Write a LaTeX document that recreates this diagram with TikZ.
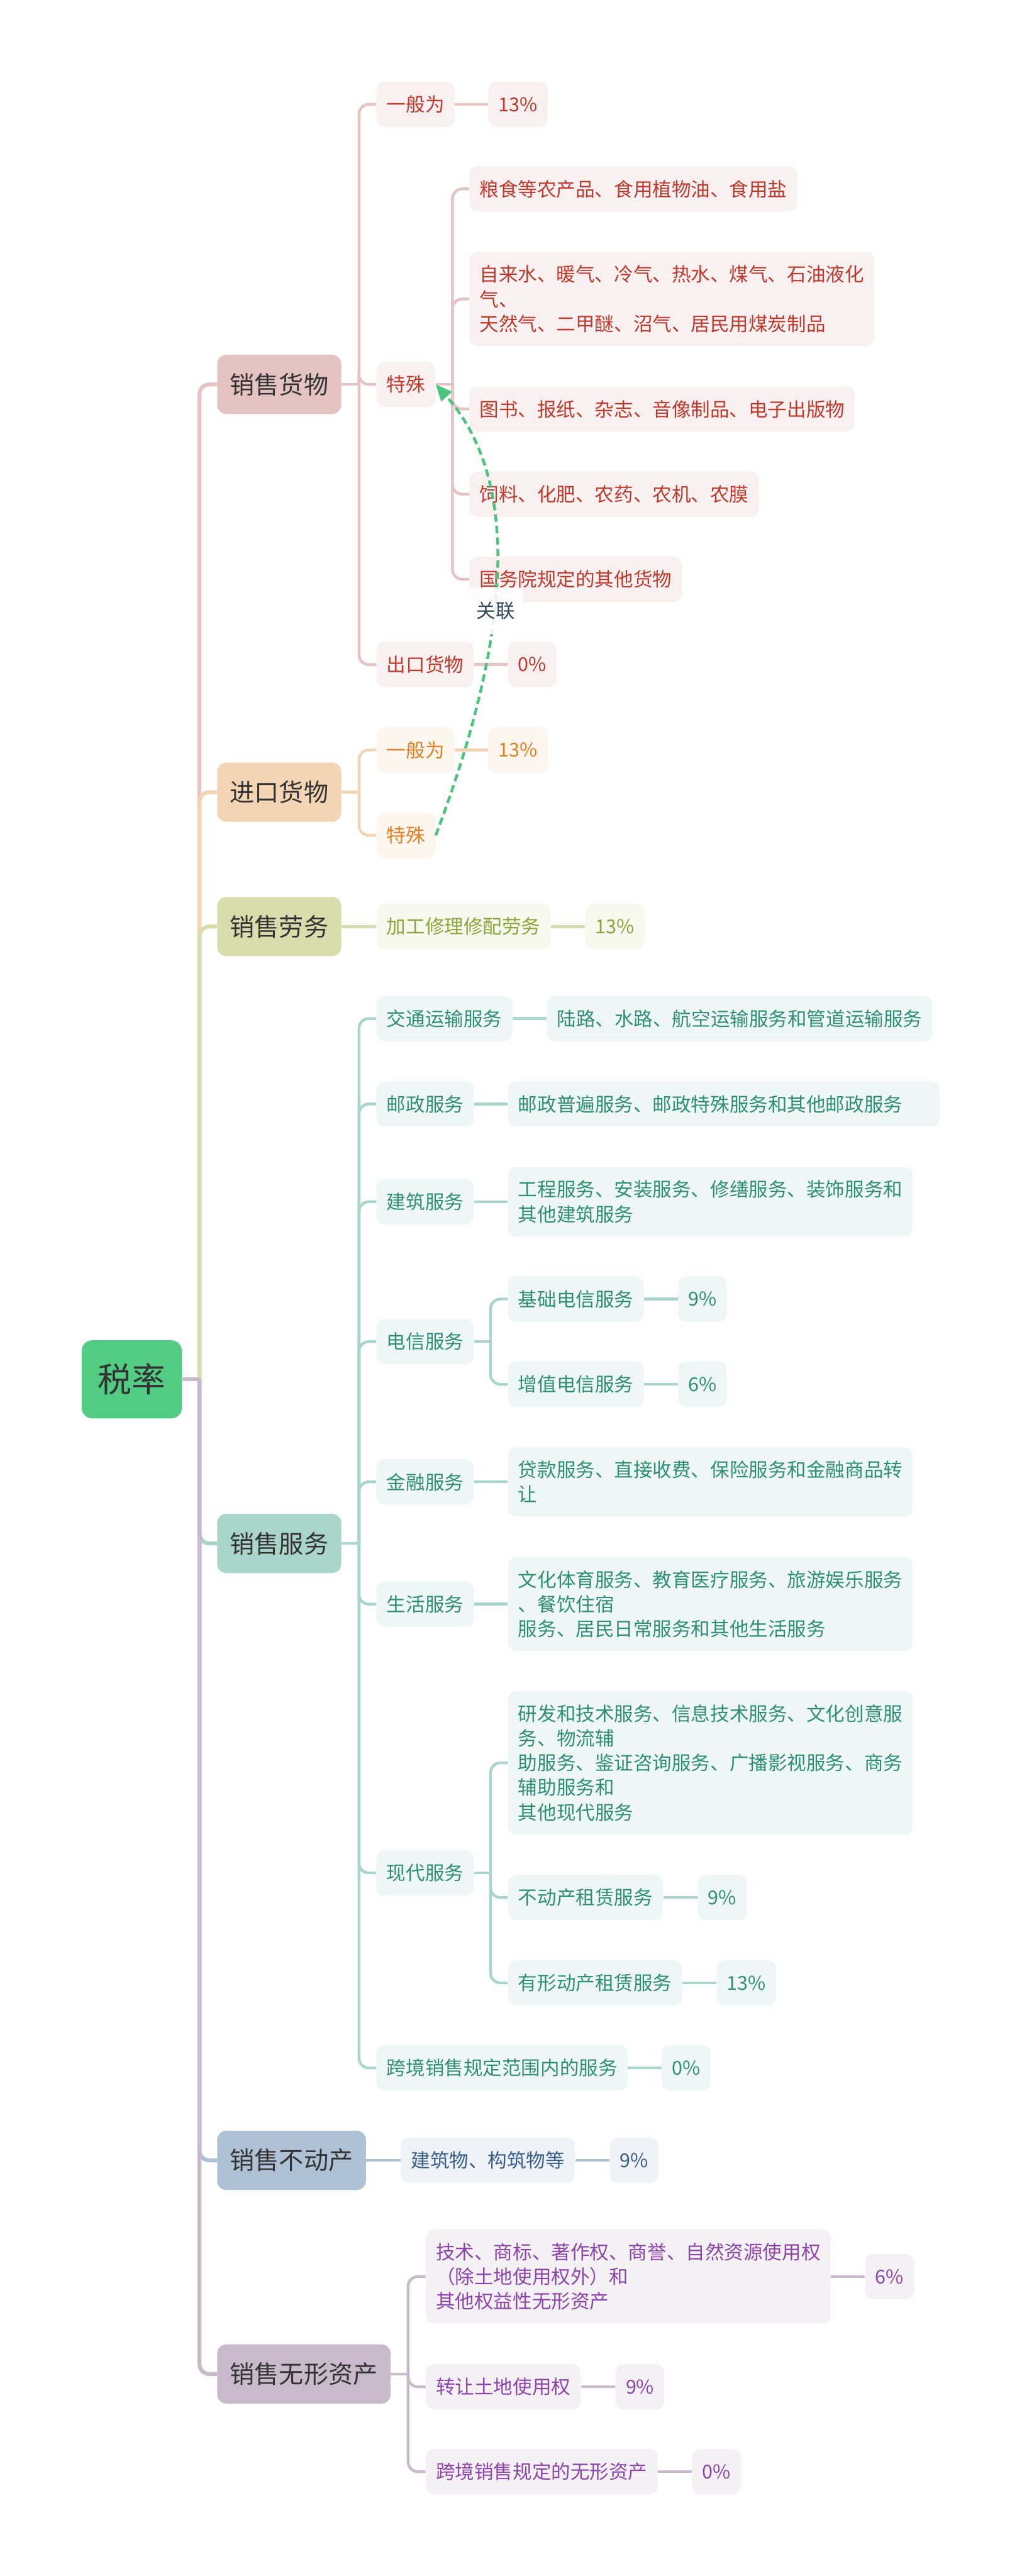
\documentclass[tikz,border=0pt]{standalone}
\usepackage{fontspec}
\setmainfont{Noto Sans CJK SC}
\usetikzlibrary{arrows.meta}

\definecolor{rootFill}{HTML}{52CC83}
\definecolor{darkText}{HTML}{333333}
\definecolor{pkEdge}{HTML}{E6C3C3}
\definecolor{pkLeaf}{HTML}{F9F1F1}
\definecolor{pkText}{HTML}{C0392B}
\definecolor{pcEdge}{HTML}{F3D5B5}
\definecolor{pcLeaf}{HTML}{FDF6EF}
\definecolor{pcText}{HTML}{E67E22}
\definecolor{olEdge}{HTML}{D7DDAB}
\definecolor{olLeaf}{HTML}{F7F8EE}
\definecolor{olText}{HTML}{8FA43A}
\definecolor{tlEdge}{HTML}{A9D5CA}
\definecolor{tlLeaf}{HTML}{EEF7F5}
\definecolor{tlText}{HTML}{2F8F75}
\definecolor{blEdge}{HTML}{AFC1D4}
\definecolor{blLeaf}{HTML}{EFF3F7}
\definecolor{blText}{HTML}{3A5E8C}
\definecolor{mvEdge}{HTML}{C9BACB}
\definecolor{mvLeaf}{HTML}{F4F1F5}
\definecolor{mvText}{HTML}{8E44AD}
\definecolor{relGreen}{HTML}{4CC47C}
\definecolor{relText}{HTML}{34495E}

\tikzset{
  rootbox/.style={rounded corners=6.5pt, fill=rootFill, text=darkText,
    font=\fontsize{20.6}{24}\selectfont, minimum height=47.6pt, inner xsep=9.9pt},
  topbox/.style={anchor=west, rounded corners=5.5pt, fill=#1, text=darkText,
    font=\fontsize{15}{18}\selectfont, minimum height=36pt, inner xsep=7.75pt},
  leaf/.style={anchor=west, rounded corners=5pt, align=left,
    font=\fontsize{11.7}{15}\selectfont, minimum height=27.6pt,
    inner xsep=6.2pt, inner ysep=8.2pt},
  goods/.style={leaf, fill=pkLeaf, text=pkText},
  import/.style={leaf, fill=pcLeaf, text=pcText},
  labour/.style={leaf, fill=olLeaf, text=olText},
  service/.style={leaf, fill=tlLeaf, text=tlText},
  estate/.style={leaf, fill=blLeaf, text=blText},
  intang/.style={leaf, fill=mvLeaf, text=mvText},
  mainlink/.style={draw=#1, line width=2.4pt, rounded corners=6pt},
  sublink/.style={draw=#1, line width=1.7pt, rounded corners=6pt},
  relline/.style={draw=relGreen, line width=1.7pt, dash pattern=on 4.5pt off 2.5pt,
    -{Triangle[length=10pt,width=8.5pt]}},
  rellabel/.style={fill=white, fill opacity=0.85, text opacity=1, text=relText,
    rounded corners=4pt, font=\fontsize{11.7}{15}\selectfont,
    minimum height=28.4pt, inner xsep=5.3pt}
}

\begin{document}
\begin{tikzpicture}[x=1pt,y=-1pt]
\useasboundingbox (0,0) rectangle (622,1568);

\node[rootbox] (root) at (80.2,839.6) {税率};

\node[topbox=pkEdge] (gd) at (132,234) {销售货物};
\node[topbox=pcEdge] (im) at (132,482.2) {进口货物};
\node[topbox=olEdge] (lb) at (132,564) {销售劳务};
\node[topbox=tlEdge] (sv) at (132,939.5) {销售服务};
\node[topbox=blEdge] (es) at (132,1315) {销售不动产};
\node[topbox=mvEdge] (ia) at (132,1445) {销售无形资产};

\node[goods] (gdA) at (229,63.5) {一般为};
\node[goods] (gdAv) at (297,63.5) {13\%};
\node[goods] (gdB) at (229,234) {特殊};
\node[goods] (gdC) at (229,404.5) {出口货物};
\node[goods] (gdCv) at (309,404.5) {0\%};
\node[goods] (gdB1) at (285.5,115) {粮食等农产品、食用植物油、食用盐};
\node[goods] (gdB2) at (285.5,182) {自来水、暖气、冷气、热水、煤气、石油液化\\气、\\天然气、二甲醚、沼气、居民用煤炭制品};
\node[goods] (gdB3) at (285.5,249) {图书、报纸、杂志、音像制品、电子出版物};
\node[goods] (gdB4) at (285.5,300.8) {饲料、化肥、农药、农机、农膜};
\node[goods] (gdB5) at (285.5,352.6) {国务院规定的其他货物};

\node[import] (imA) at (229,456.5) {一般为};
\node[import] (imAv) at (297,456.5) {13\%};
\node[import] (imB) at (229,508.5) {特殊};

\node[labour] (lbA) at (229,564) {加工修理修配劳务};
\node[labour] (lbAv) at (356,564) {13\%};

\node[service] (svA) at (229,620) {交通运输服务};
\node[service] (svAv) at (332.6,620) {陆路、水路、航空运输服务和管道运输服务};
\node[service] (svB) at (229,672) {邮政服务};
\node[service, text width=250.3pt] (svBv) at (309,672) {邮政普遍服务、邮政特殊服务和其他邮政服务};
\node[service] (svC) at (229,731.5) {建筑服务};
\node[service] (svCv) at (309,731.5) {工程服务、安装服务、修缮服务、装饰服务和\\其他建筑服务};
\node[service] (svD) at (229,816.6) {电信服务};
\node[service] (svD1) at (309,790.7) {基础电信服务};
\node[service] (svD1v) at (412.5,790.7) {9\%};
\node[service] (svD2) at (309,842.6) {增值电信服务};
\node[service] (svD2v) at (412.5,842.6) {6\%};
\node[service] (svE) at (229,902) {金融服务};
\node[service] (svEv) at (309,902) {贷款服务、直接收费、保险服务和金融商品转\\让};
\node[service] (svF) at (229,976.4) {生活服务};
\node[service] (svFv) at (309,976.4) {文化体育服务、教育医疗服务、旅游娱乐服务\\、餐饮住宿\\服务、居民日常服务和其他生活服务};
\node[service] (svG) at (229,1140) {现代服务};
\node[service] (svG1) at (309,1073) {研发和技术服务、信息技术服务、文化创意服\\务、物流辅\\助服务、鉴证咨询服务、广播影视服务、商务\\辅助服务和\\其他现代服务};
\node[service] (svG2) at (309,1155) {不动产租赁服务};
\node[service] (svG2v) at (424.5,1155) {9\%};
\node[service] (svG3) at (309,1207) {有形动产租赁服务};
\node[service] (svG3v) at (436,1207) {13\%};
\node[service] (svH) at (229,1258.7) {跨境销售规定范围内的服务};
\node[service] (svHv) at (402.6,1258.7) {0\%};

\node[estate] (esA) at (243.8,1315) {建筑物、构筑物等};
\node[estate] (esAv) at (371,1315) {9\%};

\node[intang] (iaA) at (259,1385.7) {技术、商标、著作权、商誉、自然资源使用权\\（除土地使用权外）和\\其他权益性无形资产};
\node[intang] (iaAv) at (526.4,1385.7) {6\%};
\node[intang] (iaB) at (259,1452.8) {转让土地使用权};
\node[intang] (iaBv) at (374.5,1452.8) {9\%};
\node[intang] (iaC) at (259,1504.5) {跨境销售规定的无形资产};
\node[intang] (iaCv) at (421,1504.5) {0\%};

\coordinate (rt) at ([xshift=10.5pt]root.east);
\draw[mainlink=pkEdge] (rt) |- (gd.west);
\draw[mainlink=pcEdge] (rt) |- (im.west);
\draw[mainlink=olEdge] (rt) |- (lb.west);
\draw[mainlink=tlEdge] (rt) |- (sv.west);
\draw[mainlink=blEdge] (rt) |- (es.west);
\draw[mainlink=mvEdge] (rt) |- (ia.west);
\draw[mainlink=mvEdge] (root.east) -- (rt);

\coordinate (gdT) at ([xshift=10.6pt]gd.east);
\draw[sublink=pkEdge] (gd.east) -- (gdT);
\foreach \c in {gdA,gdB,gdC} \draw[sublink=pkEdge] (gdT) |- (\c.west);
\draw[sublink=pkEdge] (gdA.east) -- (gdAv.west);
\draw[sublink=pkEdge] (gdC.east) -- (gdCv.west);
\coordinate (gdBT) at ([xshift=10.2pt]gdB.east);
\draw[sublink=pkEdge] (gdB.east) -- (gdBT);
\foreach \c in {gdB1,gdB2,gdB3,gdB4,gdB5} \draw[sublink=pkEdge] (gdBT) |- (\c.west);

\coordinate (imT) at ([xshift=10.6pt]im.east);
\draw[sublink=pcEdge] (im.east) -- (imT);
\foreach \c in {imA,imB} \draw[sublink=pcEdge] (imT) |- (\c.west);
\draw[sublink=pcEdge] (imA.east) -- (imAv.west);

\draw[sublink=olEdge] (lb.east) -- (lbA.west);
\draw[sublink=olEdge] (lbA.east) -- (lbAv.west);

\coordinate (svT) at ([xshift=10.6pt]sv.east);
\draw[sublink=tlEdge] (sv.east) -- (svT);
\foreach \c in {svA,svB,svC,svD,svE,svF,svG,svH} \draw[sublink=tlEdge] (svT) |- (\c.west);
\foreach \a/\b in {svA/svAv,svB/svBv,svC/svCv,svE/svEv,svF/svFv,svH/svHv,
  svD1/svD1v,svD2/svD2v,svG2/svG2v,svG3/svG3v}
  \draw[sublink=tlEdge] (\a.east) -- (\b.west);
\coordinate (svDT) at ([xshift=10pt]svD.east);
\draw[sublink=tlEdge] (svD.east) -- (svDT);
\foreach \c in {svD1,svD2} \draw[sublink=tlEdge] (svDT) |- (\c.west);
\coordinate (svGT) at ([xshift=10pt]svG.east);
\draw[sublink=tlEdge] (svG.east) -- (svGT);
\foreach \c in {svG1,svG2,svG3} \draw[sublink=tlEdge] (svGT) |- (\c.west);

\draw[sublink=blEdge] (es.east) -- (esA.west);
\draw[sublink=blEdge] (esA.east) -- (esAv.west);

\coordinate (iaT) at ([xshift=10.5pt]ia.east);
\draw[sublink=mvEdge] (ia.east) -- (iaT);
\foreach \c in {iaA,iaB,iaC} \draw[sublink=mvEdge] (iaT) |- (\c.west);
\foreach \a/\b in {iaA/iaAv,iaB/iaBv,iaC/iaCv}
  \draw[sublink=mvEdge] (\a.east) -- (\b.west);

\draw[relline] (imB.east) .. controls +(39,-103) and +(58,65) .. (gdB.east);
\node[rellabel] (rel) at (301.7,371.8) {关联};
\end{tikzpicture}
\end{document}
